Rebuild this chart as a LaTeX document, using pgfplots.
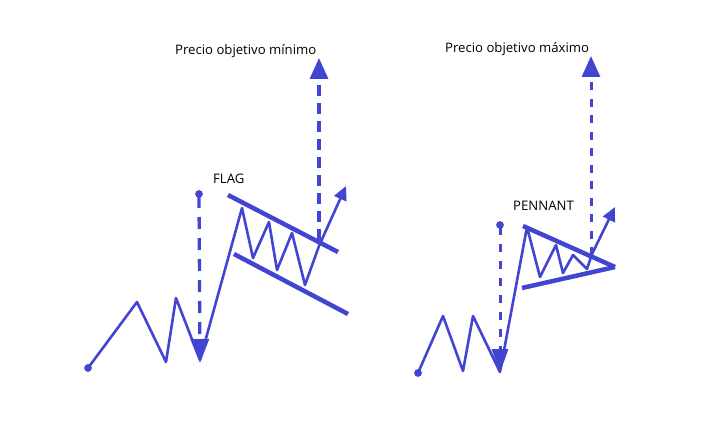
\documentclass[border=0pt]{standalone}
\usepackage{pgfplots}
\pgfplotsset{compat=1.18}
\usetikzlibrary{arrows.meta}
\usepackage{fontspec}
\setmainfont{Open Sans}
\definecolor{pat}{RGB}{66,68,210}
\begin{document}
\begin{tikzpicture}
\path[use as bounding box] (0,0) rectangle (720bp,429bp);
\begin{axis}[at={(0,0)}, anchor=south west,
  scale only axis, width=720bp, height=429bp,
  xmin=0, xmax=720, ymin=0, ymax=429, y dir=reverse,
  hide axis, clip=false,
  every axis plot/.append style={pat, no markers, line join=round}]
% ---- FLAG ----
\addplot[line width=2.6bp] coordinates {
  (88,368) (137,302) (166,362) (176,298) (200,360) (242,208)
  (253,258) (269,222) (277,270) (292,233) (305,285) (319,246)};
\addplot[line width=2.6bp, -{Triangle[length=14bp,width=13bp]}] coordinates {(319,246) (346,186)};
\addplot[line width=4.5bp] coordinates {(228,195) (338,252)};
\addplot[line width=4.5bp] coordinates {(234,254) (348,314)};
\addplot[line width=3.3bp, dash pattern=on 12bp off 9bp, -{Triangle[length=24bp,width=18bp]}] coordinates {(199,196) (200,363)};
\addplot[line width=3.3bp, dash pattern=on 11bp off 7bp, -{Triangle[length=21bp,width=18bp]}] coordinates {(319,240) (319,58)};
\addplot[only marks, mark=*, mark size=3.6bp] coordinates {(88,368) (199,194)};
% ---- PENNANT ----
\addplot[line width=2.6bp] coordinates {
  (418,373) (443,316) (463,371) (473,316) (500,372) (527,227)
  (540,277) (556,245) (563,273) (573,255) (587,269) (592,254)};
\addplot[line width=2.6bp, -{Triangle[length=14bp,width=13bp]}] coordinates {(592,254) (615,207)};
\addplot[line width=4.5bp] coordinates {(523,226) (615,267)};
\addplot[line width=4.5bp] coordinates {(522,288) (615,267)};
\addplot[line width=3bp, dash pattern=on 8bp off 9bp, -{Triangle[length=24bp,width=16bp]}] coordinates {(500,227) (500,373)};
\addplot[line width=3bp, dash pattern=on 8bp off 8.5bp, -{Triangle[length=21bp,width=18bp]}] coordinates {(591,255) (591,56)};
\addplot[only marks, mark=*, mark size=3.6bp] coordinates {(418,373) (500,225)};
% ---- labels ----
\tikzset{lbl/.style={font=\fontsize{13.2}{15}\selectfont, anchor=west, inner sep=0pt}}
\node[lbl] at (axis cs:175,51) {Precio objetivo mínimo};
\node[lbl] at (axis cs:445,49) {Precio objetivo máximo};
\node[lbl] at (axis cs:213,179) {FLAG};
\node[lbl] at (axis cs:513,206) {PENNANT};
\end{axis}
\end{tikzpicture}
\end{document}
